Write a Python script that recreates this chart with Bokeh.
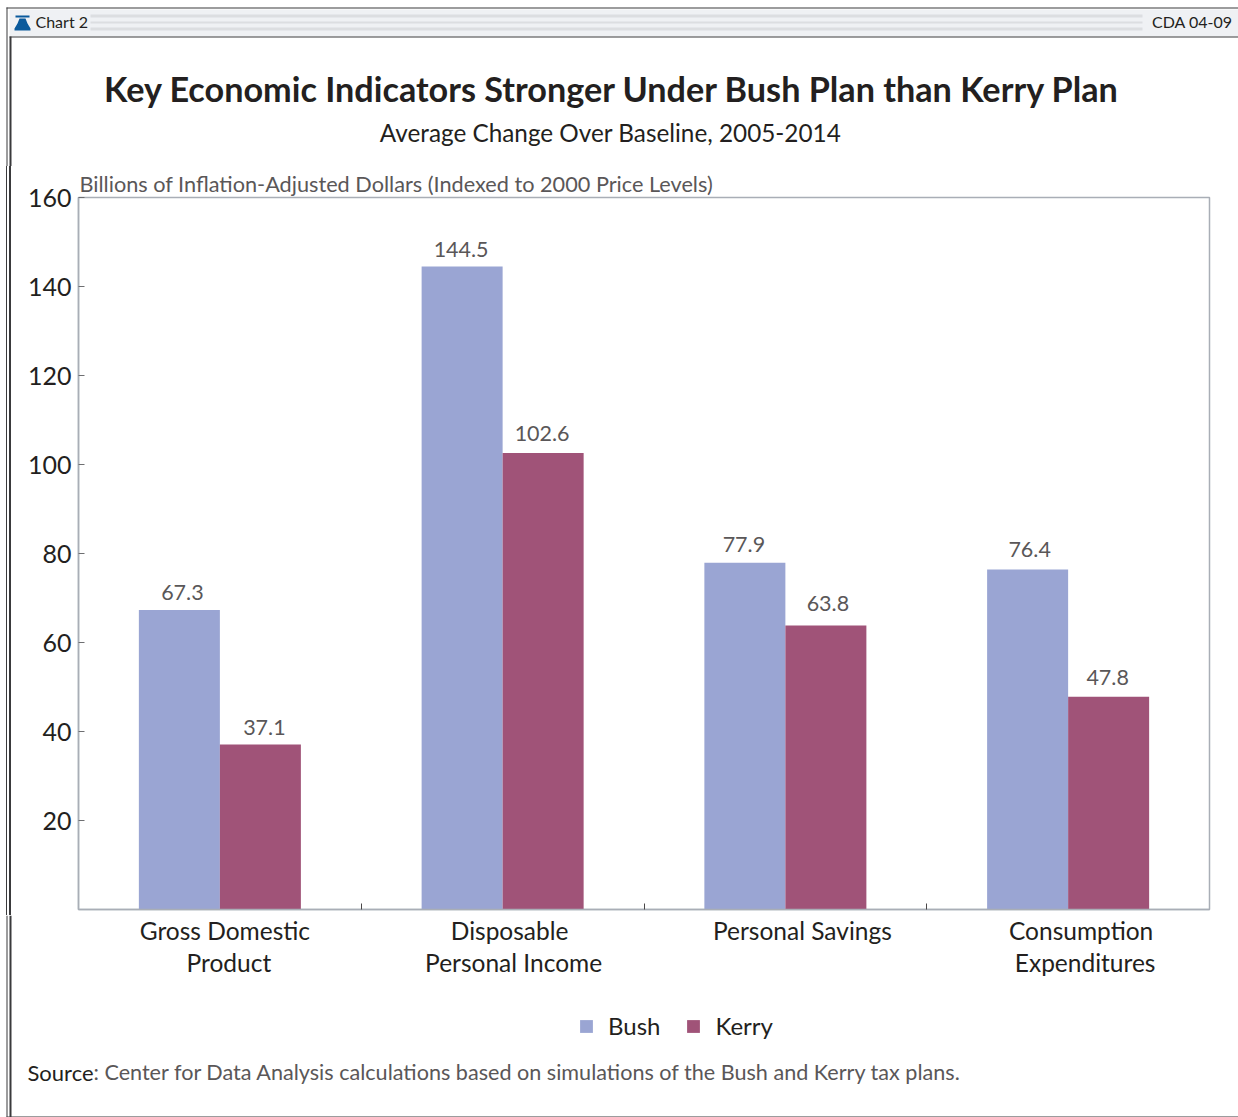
import numpy as np
from bokeh.embed import file_html
from bokeh.layouts import column, row
from bokeh.models import (ColumnDataSource, FixedTicker, LabelSet, Legend, LegendItem,
                          LinearAxis, Range1d, Title)
from bokeh.plotting import figure
from bokeh.core.properties import value
from bokeh.resources import INLINE

# Chart values
category_lines = [
    ["Gross Domestic", "Product"],
    ["Disposable", "Personal Income"],
    ["Personal Savings"],
    ["Consumption", "Expenditures"],
]
bush = [67.3, 144.5, 77.9, 76.4]
kerry = [37.1, 102.6, 63.8, 47.8]
y_ticks = [20, 40, 60, 80, 100, 120, 140, 160]
x_separators = [1, 2, 3]

title_text = "Key Economic Indicators Stronger Under Bush Plan than Kerry Plan"
subtitle_text = "Average Change Over Baseline, 2005-2014"
unit_text = "Billions of Inflation-Adjusted Dollars (Indexed to 2000 Price Levels)"
source_head = "Source"
source_body = ": Center for Data Analysis calculations based on simulations of the Bush and Kerry tax plans."

BUSH_COLOR = "#9aa5d3"
KERRY_COLOR = "#a05378"
INK = "#231f20"
SOFT_INK = "#5a5758"
RULE = "#3a3a3c"
FONT = "Lato"

WIDTH = 1238
HEADER_H = 166
MAIN_H = 749
FOOTER_H = 202
SLOT_W = 1131 / 4


def pixel_figure(width, height, top_offset=0):
    """A borderless figure whose data units are page pixels, y growing downward."""
    f = figure(width=width, height=height, output_backend="svg", toolbar_location=None,
               x_range=Range1d(0, width), y_range=Range1d(top_offset + height, top_offset),
               x_axis_type=None, y_axis_type=None, min_border=0, outline_line_color=None,
               background_fill_color="white", border_fill_color="white")
    f.grid.visible = False
    return f


def band(f, left, right, top, bottom, color):
    f.quad(left=left, right=right, top=top, bottom=bottom, fill_color=color, line_color=None)


def caption(f, x, y, text, size, font=FONT, style="normal", align="left", color=INK, **kw):
    f.text(x=[x], y=[y], text=[text], text_font=value(font), text_font_size=size, text_font_style=style,
           text_align=align, text_baseline="middle", text_color=color, **kw)


# Header: title block, window band, stripes, rules and bell emblem
header = pixel_figure(WIDTH, HEADER_H)
band(header, 9, WIDTH, 9, 36, "#eff1f4")
for top, bottom in ((14, 17), (21, 23), (27, 30)):
    band(header, 90, 1142, top, bottom, "#dcdee1")
band(header, 6, WIDTH, 7, 8, RULE)
band(header, 9, WIDTH, 36, 37, RULE)
band(header, 6, 7, 7, HEADER_H, RULE)
band(header, 9, 11, 36, HEADER_H, RULE)
band(header, 15, 29, 15, 17, "#0a5a9c")
header.patch(x=[19, 25, 27, 30, 30, 14, 14, 17],
             y=[18, 18, 23, 28, 30, 30, 28, 23],
             fill_color="#0a5a9c", line_color=None)
caption(header, 35, 20.5, "Chart 2", "16px")
caption(header, 1232, 20.5, "CDA 04-09", "16px", align="right")
caption(header, 612, 88, title_text, "34.2px", style="bold", align="center")
caption(header, 610, 131.5, subtitle_text, "24.3px", align="center")

# Main plot; the double rule on its left is painted as two sized background layers
solid_rule = f"linear-gradient({RULE}, {RULE})"
rule_layers = f"{solid_rule} 6px 0 / 1px 100% no-repeat, {solid_rule} 9px 0 / 2px 100% no-repeat, white"
p = figure(width=WIDTH, height=MAIN_H, output_backend="svg", toolbar_location=None,
           x_range=Range1d(0, 4), y_range=Range1d(0, 160), x_axis_type=None, y_axis_type=None,
           min_border_left=78, min_border_right=29, min_border_top=31, min_border_bottom=6,
           background_fill_color="white", border_fill_alpha=0,
           outline_line_color="#a9aeb6", outline_line_width=1.5,
           styles={"background": rule_layers})
p.grid.visible = False
p.add_layout(Title(text=unit_text, text_font=FONT, text_font_size="21.7px", text_font_style="normal",
                   text_color=SOFT_INK, align="left", offset=1, standoff=1), "above")

bar_w = 0.2865
centers = np.arange(len(bush)) + 0.5
# Hand-placed label nudges (pixels), per bar
bush_dx, bush_dy = [3, -1, -1, 2], [10, 9, 11, 13]
kerry_dx, kerry_dy = [4, -1, 2, -1], [9, 12, 15, 12]
bush_src = ColumnDataSource(dict(x=centers - bar_w / 2, top=bush, label=[f"{v:.1f}" for v in bush],
                                 dx=bush_dx, dy=bush_dy))
kerry_src = ColumnDataSource(dict(x=centers + bar_w / 2, top=kerry, label=[f"{v:.1f}" for v in kerry],
                                  dx=kerry_dx, dy=kerry_dy))
p.vbar(x="x", top="top", bottom=0, width=bar_w, source=bush_src, fill_color=BUSH_COLOR, line_color=None)
p.vbar(x="x", top="top", bottom=0, width=bar_w, source=kerry_src, fill_color=KERRY_COLOR, line_color=None)
for src in (bush_src, kerry_src):
    p.add_layout(LabelSet(x="x", y="top", text="label", source=src, x_offset="dx", y_offset="dy",
                          text_align="center", text_baseline="alphabetic",
                          text_font=value(FONT), text_font_size="21.5px", text_color=SOFT_INK))

p.add_layout(LinearAxis(ticker=FixedTicker(ticks=y_ticks), axis_line_color="#a9aeb6", axis_line_width=1.5,
                        major_tick_in=6, major_tick_out=0, minor_tick_line_color=None,
                        major_tick_line_color="#6d6e71", major_label_standoff=7,
                        major_label_text_font=FONT, major_label_text_font_size="25px",
                        major_label_text_color=INK), "left")
p.add_layout(LinearAxis(ticker=FixedTicker(ticks=x_separators), axis_line_color="#a9aeb6", axis_line_width=1.5,
                        major_tick_in=6, major_tick_out=0, minor_tick_line_color=None,
                        major_tick_line_color="#4a4748", major_label_text_color=None,
                        major_label_text_font_size="1px", major_label_standoff=0), "below")

# Footer: category captions, legend, source note and closing rules
FOOTER_TOP = HEADER_H + MAIN_H
footer = pixel_figure(WIDTH, FOOTER_H, top_offset=FOOTER_TOP)
footer.extra_x_ranges["slots"] = Range1d(-78 / SLOT_W, (WIDTH - 78) / SLOT_W)
band(footer, 6, 7, FOOTER_TOP, 1117, RULE)
band(footer, 9, 11, FOOTER_TOP, 1117, RULE)
band(footer, 6, WIDTH, 1116, 1117, RULE)

line_nudges = [[5, 9], [7, 11], [17], [13, 17]]
for i, lines in enumerate(category_lines):
    for j, line in enumerate(lines):
        caption(footer, centers[i], 929.5 + 32 * j, line, "24.5px", align="center",
                x_offset=line_nudges[i][j], x_range_name="slots")

# Legend keys come from quads parked outside the visible range
r_bush = footer.quad(left=[-60], right=[-40], top=[-60], bottom=[-40], fill_color=BUSH_COLOR, line_color=None)
r_kerry = footer.quad(left=[-60], right=[-40], top=[-60], bottom=[-40], fill_color=KERRY_COLOR, line_color=None)
legend = Legend(items=[LegendItem(label="Bush", renderers=[r_bush]), LegendItem(label="Kerry", renderers=[r_kerry])],
                orientation="horizontal", location=(578, 77), margin=0, padding=0, spacing=25,
                glyph_width=16, glyph_height=16, label_standoff=14, border_line_color=None,
                background_fill_alpha=0, label_text_font=FONT, label_text_font_size="24px",
                label_text_color=INK)
footer.add_layout(legend, "center")

caption(footer, 27, 1071.5, source_head, "22px")
caption(footer, 93, 1071.5, source_body, "21.6px", color=SOFT_INK)

# Nesting in rows keeps the three figures from sharing frame alignment
page = column(row(header), row(p), row(footer), spacing=0)
open("out.html", "w").write(file_html(page, INLINE))
